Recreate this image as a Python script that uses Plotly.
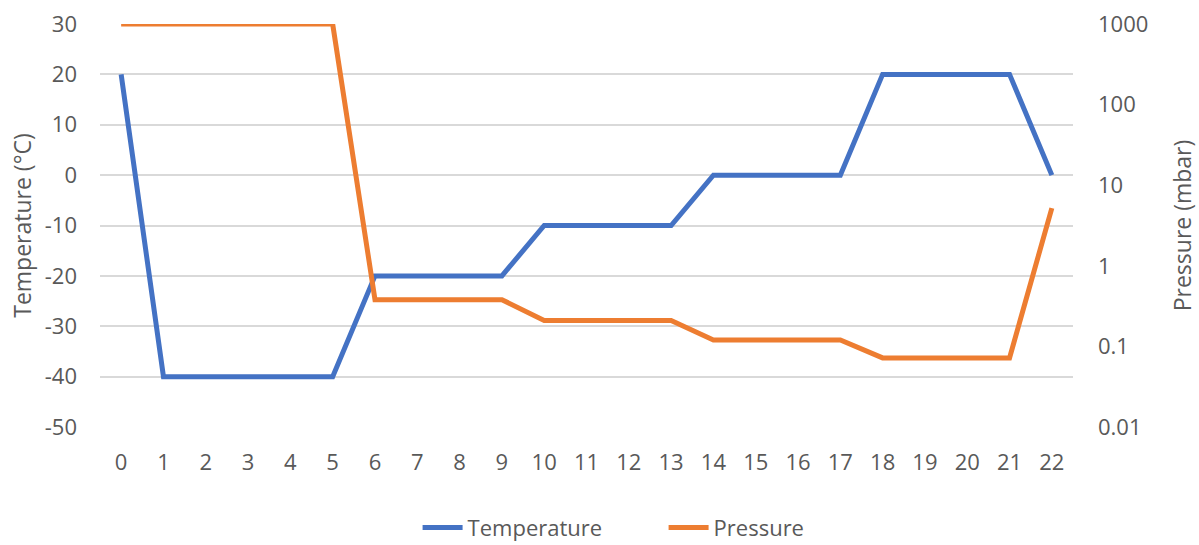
import plotly.graph_objects as go

hours = list(range(23))
temperature = [20, -40, -40, -40, -40, -40, -20, -20, -20, -20, -10, -10, -10, -10,
               0, 0, 0, 0, 20, 20, 20, 20, 0]
pressure = [1000, 1000, 1000, 1000, 1000, 1000, 0.38, 0.38, 0.38, 0.38,
            0.21, 0.21, 0.21, 0.21, 0.12, 0.12, 0.12, 0.12,
            0.072, 0.072, 0.072, 0.072, 5.2]
temp_ticks = [-50, -40, -30, -20, -10, 0, 10, 20, 30]
temp_labels = ["-50", "-40", "-30", "-20", "-10", "0", "10", "20", "30"]
press_ticks = [0.01, 0.1, 1, 10, 100, 1000]
press_labels = ["0.01", "0.1", "1", "10", "100", "1000"]

fam = "Open Sans, Liberation Sans, sans-serif"
tickfont = dict(family=fam, size=22, color="#595959")
titlefont = dict(family=fam, size=23, color="#595959")

fig = go.Figure()
fig.add_trace(go.Scatter(x=hours, y=temperature, name="Temperature", mode="lines",
                         line=dict(color="#4472C4", width=5), yaxis="y"))
fig.add_trace(go.Scatter(x=hours, y=pressure, name="Pressure", mode="lines",
                         line=dict(color="#ED7D31", width=5), yaxis="y2"))

fig.update_layout(
    width=1199, height=545,
    margin=dict(l=100, r=126, t=24, b=118, autoexpand=False),
    paper_bgcolor="white", plot_bgcolor="white",
    font=tickfont,
    showlegend=True,
    legend=dict(orientation="h", x=0.3264, xanchor="left", y=-0.25, yanchor="middle",
                font=tickfont, itemwidth=40, entrywidth=191, entrywidthmode="pixels"),
    xaxis=dict(range=[-0.5, 22.5], tickvals=hours, ticktext=[str(h) for h in hours],
               showgrid=False, zeroline=False, showline=False, ticks="",
               ticklabelstandoff=20, tickfont=tickfont, automargin=False),
    yaxis=dict(range=[-50, 30], tickvals=temp_ticks, ticktext=temp_labels,
               showgrid=True, gridcolor="#D9D9D9",
               gridwidth=1.5, zeroline=False, showline=False, ticks="",
               ticklabelstandoff=22, tickfont=tickfont, automargin=False,
               title=dict(text="Temperature (°C)", font=titlefont, standoff=6)),
    yaxis2=dict(type="log", range=[-2, 3], overlaying="y", side="right",
                tickvals=press_ticks, ticktext=press_labels, showgrid=False,
                zeroline=False, showline=False, ticks="", ticklabelstandoff=24,
                tickfont=tickfont, automargin=False,
                title=dict(text="Pressure (mbar)", font=titlefont, standoff=27)),
)

fig.write_html("out.html", config={"displayModeBar": False},
               post_script="document.body.style.margin='0';")
